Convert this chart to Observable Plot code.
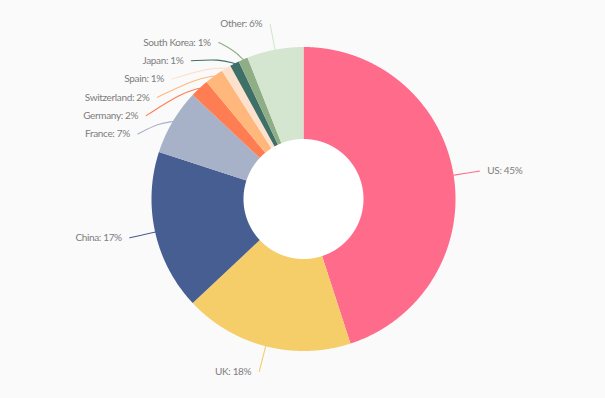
<!DOCTYPE html>
<html>
<head>
<meta charset="utf-8">
<script src="https://cdn.jsdelivr.net/npm/d3@7"></script>
<script src="https://cdn.jsdelivr.net/npm/@observablehq/plot@0.6"></script>
<style>
  html, body { margin: 0; padding: 0; background: #fafafa; }
  #chart { width: 605px; height: 398px; }
</style>
</head>
<body>
<div id="chart"></div>
<script>
// ---- data ----
const names  = ["US", "UK", "China", "France", "Germany", "Switzerland", "Spain", "Japan", "South Korea", "Other"];
const shares = [45, 18, 17, 7, 2, 2, 1, 1, 1, 6];
const colors = ["#ff6b8a", "#f5cd69", "#465e91", "#a7b2c8", "#fe7d52", "#ffb77c", "#fde1cc", "#3f7068", "#8fae85", "#d4e6d0"];

// ---- layout constants ----
const W = 605, H = 398;
const cx = 303, cy = 198.5, R = 152, r0 = 60, labelR = 178, spacing = 18.3;
const total = d3.sum(shares);
const pt = (a, rad) => [cx + rad * Math.sin(a), cy - rad * Math.cos(a)];

// slices as polygons
const slicePts = [];
const labels = [];
let acc = 0;
names.forEach((name, i) => {
  const a0 = acc / total * 2 * Math.PI;
  acc += shares[i];
  const a1 = acc / total * 2 * Math.PI;
  const n = Math.max(2, Math.ceil((a1 - a0) / 0.004) + 1);
  for (let k = 0; k < n; k++) {
    const a = a0 + (a1 - a0) * k / (n - 1);
    const [x, y] = pt(a, R);
    slicePts.push({name, x, y});
  }
  for (let k = n - 1; k >= 0; k--) {
    const a = a0 + (a1 - a0) * k / (n - 1);
    const [x, y] = pt(a, r0);
    slicePts.push({name, x, y});
  }
  const am = (a0 + a1) / 2;
  const [nx, ny] = pt(am, labelR);
  labels.push({name, share: shares[i], am, side: Math.sin(am) < 0 ? "left" : "right", y: ny});
});

// collision avoidance per side (push downward)
for (const side of ["left", "right"]) {
  const group = labels.filter(d => d.side === side).sort((a, b) => a.y - b.y);
  let prev = -Infinity;
  for (const d of group) {
    d.y = Math.max(d.y, prev + spacing);
    prev = d.y;
  }
}
labels.forEach(d => {
  const dy = d.y - cy;
  const dx = Math.sqrt(Math.max(0, labelR * labelR - dy * dy));
  d.x = d.side === "left" ? cx - dx : cx + dx;
});

// leader lines: gentle curve from slice edge to label anchor
const leaderPts = [];
labels.forEach(d => {
  const [ex, ey] = pt(d.am, R);
  const [rx, ry] = pt(d.am, R + 10);
  const mx = (ex + d.x) / 2 * 0.6 + rx * 0.4;
  const my = (ey + d.y) / 2 * 0.6 + ry * 0.4;
  leaderPts.push({name: d.name, x: ex, y: ey});
  leaderPts.push({name: d.name, x: mx, y: my});
  leaderPts.push({name: d.name, x: d.x, y: d.y});
});

const labelText = d => `${d.name}: ${d.share}%`;

const chart = Plot.plot({
  width: W,
  height: H,
  margin: 0,
  style: {background: "#fafafa", fontFamily: "Lato, sans-serif", letterSpacing: "-0.35px"},
  x: {axis: null, domain: [0, W], range: [0, W]},
  y: {axis: null, domain: [0, H], range: [0, H]},
  color: {domain: names, range: colors},
  marks: [
    Plot.dot([{x: cx, y: cy}], {x: "x", y: "y", r: r0 + 1, fill: "#ffffff", stroke: "none"}),
    Plot.line(slicePts, {x: "x", y: "y", z: "name", fill: "name", stroke: "none"}),
    Plot.line(leaderPts, {x: "x", y: "y", z: "name", stroke: "name", strokeWidth: 1.1, curve: "basis"}),
    Plot.text(labels.filter(d => d.side === "left"), {x: "x", y: "y", text: labelText, textAnchor: "end", dx: -8, fill: "#7d7d7d", fontSize: 10, fontFamily: "Lato, sans-serif"}),
    Plot.text(labels.filter(d => d.side === "right"), {x: "x", y: "y", text: labelText, textAnchor: "start", dx: 8, fill: "#7d7d7d", fontSize: 10, fontFamily: "Lato, sans-serif"})
  ]
});
document.getElementById("chart").appendChild(chart);
</script>
</body>
</html>
